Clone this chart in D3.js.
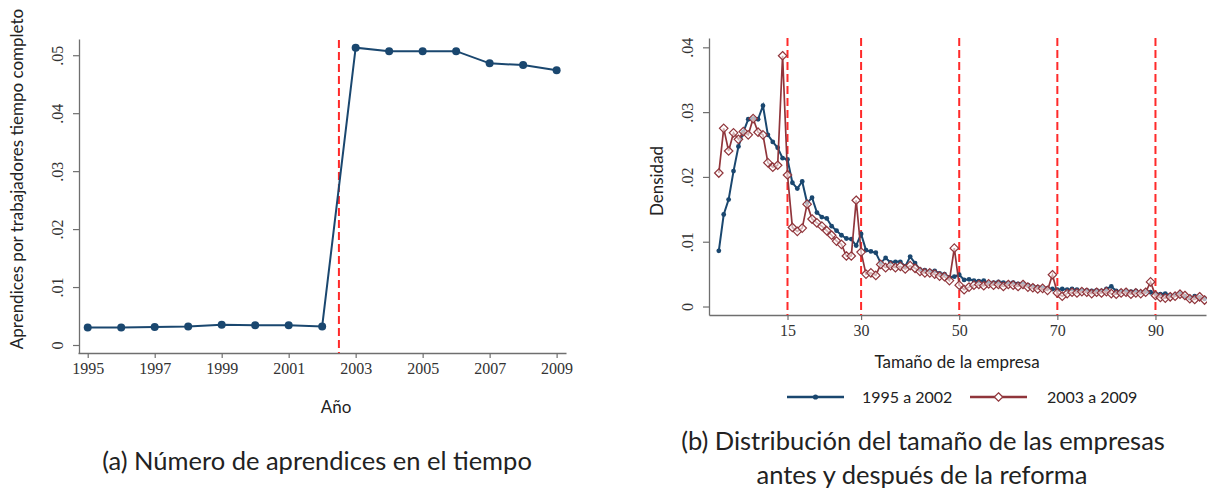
<!DOCTYPE html>
<html>
<head>
<meta charset="utf-8">
<script src="https://cdnjs.cloudflare.com/ajax/libs/d3/7.8.5/d3.min.js"></script>
<style>
  body { margin: 0; background: #fff; }
  svg { display: block; }
</style>
</head>
<body>
<div id="content"></div>
<script>
// panel (a): apprentices per full-time worker by year
var years = [1995, 1996, 1997, 1998, 1999, 2000, 2001, 2002, 2003, 2004, 2005, 2006, 2007, 2008, 2009];
var apprentices = [0.0030, 0.0030, 0.0031, 0.0032, 0.0035, 0.0034, 0.0034, 0.0032,
                   0.0513, 0.0507, 0.0507, 0.0507, 0.0486, 0.0483, 0.0474];
var yearTicks = [1995, 1997, 1999, 2001, 2003, 2005, 2007, 2009];
var aTicks = [0, 0.01, 0.02, 0.03, 0.04, 0.05];
var aTickLabels = ['0', '.01', '.02', '.03', '.04', '.05'];
var reformYear = 2002.5;

// panel (b): firm size density, sizes 1..100
var firmSize = d3.range(1, 101);
var dens9502 = [
  0.0086, 0.0142, 0.0165, 0.0209, 0.0247, 0.0269, 0.0289, 0.0290, 0.0289, 0.0310,
  0.0265, 0.0254, 0.0245, 0.0229, 0.0227, 0.0191, 0.0182, 0.0193, 0.0160, 0.0168,
  0.0145, 0.0138, 0.0136, 0.0124, 0.0117, 0.0110, 0.0105, 0.0104, 0.0094, 0.0112,
  0.0087, 0.0085, 0.0083, 0.0067, 0.0075, 0.0068, 0.0069, 0.0069, 0.0062, 0.0077,
  0.0067, 0.0057, 0.0056, 0.0054, 0.0055, 0.0051, 0.0050, 0.0045, 0.0046, 0.0049,
  0.0041, 0.0042, 0.0040, 0.0039, 0.0040, 0.0036, 0.0037, 0.0038, 0.0037, 0.0036,
  0.0037, 0.0035, 0.0035, 0.0033, 0.0031, 0.0030, 0.0029, 0.0028, 0.0027, 0.0026,
  0.0027, 0.0026, 0.0027, 0.0026, 0.0025, 0.0025, 0.0024, 0.0025, 0.0024, 0.0027,
  0.0031, 0.0024, 0.0023, 0.0024, 0.0023, 0.0024, 0.0022, 0.0023, 0.0022, 0.0020,
  0.0019, 0.0020, 0.0017, 0.0018, 0.0020, 0.0016, 0.0013, 0.0016, 0.0014, 0.0012
];
var dens0309 = [
  0.0206, 0.0275, 0.0240, 0.0268, 0.0258, 0.0270, 0.0265, 0.0290, 0.0269, 0.0265,
  0.0222, 0.0215, 0.0218, 0.0387, 0.0203, 0.0122, 0.0116, 0.0121, 0.0158, 0.0135,
  0.0129, 0.0124, 0.0117, 0.0110, 0.0101, 0.0096, 0.0078, 0.0078, 0.0164, 0.0084,
  0.0050, 0.0052, 0.0048, 0.0065, 0.0060, 0.0063, 0.0060, 0.0062, 0.0058, 0.0063,
  0.0059, 0.0054, 0.0052, 0.0052, 0.0050, 0.0047, 0.0046, 0.0040, 0.0090, 0.0033,
  0.0026, 0.0030, 0.0033, 0.0034, 0.0032, 0.0035, 0.0033, 0.0034, 0.0031, 0.0034,
  0.0033, 0.0031, 0.0034, 0.0030, 0.0029, 0.0027, 0.0028, 0.0025, 0.0049, 0.0021,
  0.0016, 0.0020, 0.0022, 0.0021, 0.0023, 0.0022, 0.0020, 0.0022, 0.0021, 0.0023,
  0.0020, 0.0019, 0.0021, 0.0022, 0.0019, 0.0021, 0.0020, 0.0022, 0.0038, 0.0017,
  0.0014, 0.0013, 0.0015, 0.0016, 0.0019, 0.0017, 0.0012, 0.0011, 0.0015, 0.0010
];
var sizeTicks = [15, 30, 50, 70, 90];
var bTicks = [0, 0.01, 0.02, 0.03, 0.04];
var bTickLabels = ['0', '.01', '.02', '.03', '.04'];
var thresholds = [15, 30, 50, 70, 90];
var seriesNames = ['1995 a 2002', '2003 a 2009'];

var navy = '#1a476f', maroon = '#90353b', axisGray = '#6f6f6f', dashRed = '#ff2a2a';
var serif = '"Liberation Serif", "Times New Roman", serif';
var sans = 'Lato, "Open Sans", sans-serif';

var svg = d3.select('#content').append('svg')
    .attr('width', 1207)
    .attr('height', 489);

function styleAxis(g) {
    g.select('.domain').style('stroke', axisGray).style('stroke-width', 1.3);
    g.selectAll('.tick line').style('stroke', axisGray).style('stroke-width', 1.2);
    g.selectAll('.tick text')
        .style('font-family', serif)
        .style('font-size', '16px')
        .style('fill', '#333');
}

// ---------- panel (a) ----------
var xA = d3.scaleLinear().domain([1994.71, 2009.28]).range([78, 566]);
var yA = d3.scaleLinear().domain([-0.00138, 0.0528]).range([353, 39]);

var axA = svg.append('g').attr('transform', 'translate(0,353)');
axA.call(d3.axisBottom(xA).tickValues(yearTicks).tickSize(5).tickSizeOuter(0).tickFormat(d3.format('d')).tickPadding(5));
styleAxis(axA);

var ayA = svg.append('g').attr('transform', 'translate(79,0)');
ayA.call(d3.axisLeft(yA).tickValues(aTicks).tickSize(6).tickSizeOuter(0)
    .tickFormat(function(d, i){ return aTickLabels[i]; }));
styleAxis(ayA);
ayA.selectAll('.tick text')
    .attr('x', 0).attr('y', -16).attr('dy', 0)
    .attr('transform', 'rotate(-90)')
    .style('text-anchor', 'middle');

svg.append('line')
    .attr('x1', xA(reformYear)).attr('x2', xA(reformYear))
    .attr('y1', 40).attr('y2', 353)
    .style('stroke', dashRed).style('stroke-width', 2)
    .style('stroke-dasharray', '8,4');

var lineA = d3.line()
    .x(function(d, i){ return xA(years[i]); })
    .y(function(d){ return yA(d); });

svg.append('path').datum(apprentices)
    .attr('d', lineA)
    .style('fill', 'none').style('stroke', navy).style('stroke-width', 2);

svg.append('g').selectAll('circle').data(apprentices)
    .enter().append('circle')
        .attr('cx', function(d, i){ return xA(years[i]); })
        .attr('cy', function(d){ return yA(d); })
        .attr('r', 4)
        .style('fill', navy);

svg.append('text')
    .attr('transform', 'translate(23,179) rotate(-90)')
    .style('text-anchor', 'middle')
    .style('font-family', sans).style('font-size', '17px').style('fill', '#222')
    .text('Aprendices por trabajadores tiempo completo');

svg.append('text')
    .attr('x', 336).attr('y', 413)
    .style('text-anchor', 'middle')
    .style('font-family', sans).style('font-size', '17px').style('fill', '#222')
    .text('Año');

svg.append('text')
    .attr('x', 317).attr('y', 470)
    .style('text-anchor', 'middle')
    .style('font-family', sans).style('font-size', '25.5px').style('fill', '#222')
    .text('(a) Número de aprendices en el tiempo');

// ---------- panel (b) ----------
var xB = d3.scaleLinear().domain([-1, 100.3]).range([709, 1206]);
var yB = d3.scaleLinear().domain([-0.00131, 0.04144]).range([315, 38]);

var axB = svg.append('g').attr('transform', 'translate(0,315)');
axB.call(d3.axisBottom(xB).tickValues(sizeTicks).tickSize(5).tickSizeOuter(0).tickPadding(5));
styleAxis(axB);

var ayB = svg.append('g').attr('transform', 'translate(709,0)');
ayB.call(d3.axisLeft(yB).tickValues(bTicks).tickSize(6).tickSizeOuter(0)
    .tickFormat(function(d, i){ return bTickLabels[i]; }));
styleAxis(ayB);
ayB.selectAll('.tick text')
    .attr('x', 0).attr('y', -16).attr('dy', 0)
    .attr('transform', 'rotate(-90)')
    .style('text-anchor', 'middle');

svg.append('g').selectAll('line').data(thresholds)
    .enter().append('line')
        .attr('x1', function(d){ return xB(d); })
        .attr('x2', function(d){ return xB(d); })
        .attr('y1', 38).attr('y2', 315)
        .style('stroke', dashRed).style('stroke-width', 2)
        .style('stroke-dasharray', '8,4');

var lineB = d3.line()
    .x(function(d, i){ return xB(firmSize[i]); })
    .y(function(d){ return yB(d); });

svg.append('path').datum(dens9502)
    .attr('d', lineB)
    .style('fill', 'none').style('stroke', navy).style('stroke-width', 2);

svg.append('g').selectAll('circle').data(dens9502)
    .enter().append('circle')
        .attr('cx', function(d, i){ return xB(firmSize[i]); })
        .attr('cy', function(d){ return yB(d); })
        .attr('r', 2.4)
        .style('fill', navy);

svg.append('path').datum(dens0309)
    .attr('d', lineB)
    .style('fill', 'none').style('stroke', maroon).style('stroke-width', 1.7);

var diamond = d3.symbol().type(d3.symbolDiamond2).size(46);
svg.append('g').selectAll('path').data(dens0309)
    .enter().append('path')
        .attr('d', diamond)
        .attr('transform', function(d, i){ return 'translate(' + xB(firmSize[i]) + ',' + yB(d) + ')'; })
        .style('fill', '#fff').style('fill-opacity', 0.6)
        .style('stroke', maroon).style('stroke-width', 1.2);

svg.append('text')
    .attr('transform', 'translate(663,181) rotate(-90)')
    .style('text-anchor', 'middle')
    .style('font-family', sans).style('font-size', '17px').style('fill', '#222')
    .text('Densidad');

svg.append('text')
    .attr('x', 957).attr('y', 368)
    .style('text-anchor', 'middle')
    .style('font-family', sans).style('font-size', '17px').style('fill', '#222')
    .text('Tamaño de la empresa');

// legend
var legend = svg.append('g');
legend.append('line').attr('x1', 787).attr('x2', 844).attr('y1', 397).attr('y2', 397)
    .style('stroke', navy).style('stroke-width', 2.5);
legend.append('circle').attr('cx', 815.5).attr('cy', 397).attr('r', 2.6).style('fill', navy);
legend.append('text').attr('x', 862).attr('y', 403)
    .style('font-family', sans).style('font-size', '16px').style('fill', '#222')
    .text(seriesNames[0]);
legend.append('line').attr('x1', 970).attr('x2', 1027).attr('y1', 397).attr('y2', 397)
    .style('stroke', maroon).style('stroke-width', 2.5);
legend.append('path').attr('d', diamond)
    .attr('transform', 'translate(998.5,397)')
    .style('fill', '#fff').style('stroke', maroon).style('stroke-width', 1.2);
legend.append('text').attr('x', 1047).attr('y', 403)
    .style('font-family', sans).style('font-size', '16px').style('fill', '#222')
    .text(seriesNames[1]);

svg.append('text')
    .attr('x', 923).attr('y', 450)
    .style('text-anchor', 'middle')
    .style('font-family', sans).style('font-size', '25.5px').style('fill', '#222')
    .text('(b) Distribución del tamaño de las empresas');

svg.append('text')
    .attr('x', 922).attr('y', 484)
    .style('text-anchor', 'middle')
    .style('font-family', sans).style('font-size', '25.5px').style('fill', '#222')
    .text('antes y después de la reforma');
</script>
</body>
</html>
